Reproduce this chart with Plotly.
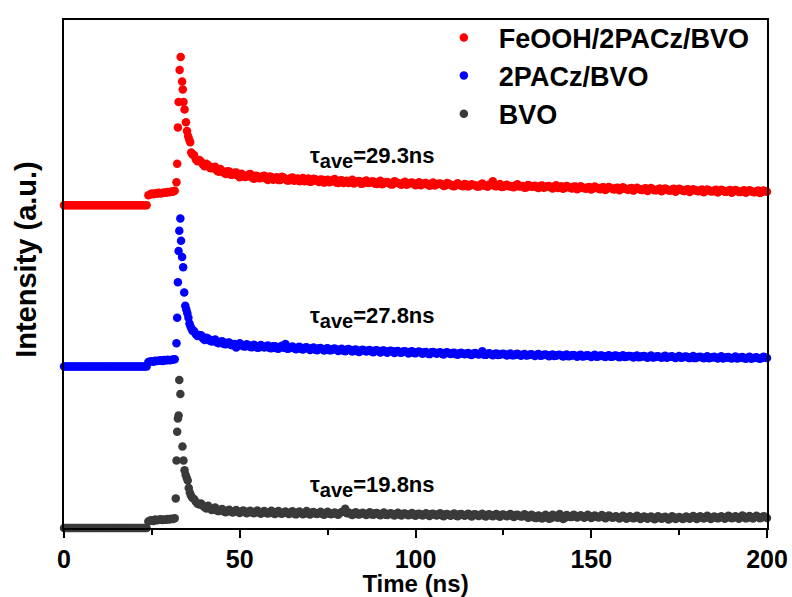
import plotly.graph_objects as go

# ---- time grids (ns) ----
t_pre = [i * 0.5 for i in range(64)]          # 0 ... 31.5 ns, before the pulse
t_tail = list(range(37, 201))                 # decay tail, whole ns
t_tail2 = [i + 0.5 for i in range(37, 200)]   # decay tail, half ns

# ---- normalized PL intensities (baseline 0, peak 1) ----
# FeOOH/2PACz/BVO
fe_pre = [0.000, 0.000, 0.000, 0.000, 0.000, 0.000, 0.000, 0.000, 0.000, 0.000, 0.000, 0.000, 0.000, 0.000, 0.000, 0.000,
          0.000, 0.000, 0.000, 0.000, 0.000, 0.000, 0.000, 0.000, 0.000, 0.000, 0.000, 0.000, 0.000, 0.000, 0.000, 0.000,
          0.000, 0.000, 0.000, 0.000, 0.000, 0.000, 0.000, 0.000, 0.000, 0.000, 0.000, 0.000, 0.000, 0.000, 0.000, 0.000,
          0.066, 0.072, 0.078, 0.074, 0.080, 0.077, 0.083, 0.079, 0.082, 0.086, 0.084, 0.089, 0.087, 0.092, 0.090, 0.097]
fe_peak_t = [32.0, 32.2, 32.4, 32.6, 32.9, 33.2, 33.6, 33.8, 34.0, 34.3, 34.7,
             35.0, 35.3, 35.6, 35.9, 36.2, 36.6]
fe_peak = [0.155, 0.280, 0.525, 0.697, 0.913, 1.000, 0.834, 0.781, 0.697, 0.646,
           0.560, 0.500, 0.466, 0.445, 0.425, 0.356, 0.340]
fe_tail = [0.338, 0.297, 0.294, 0.262, 0.271, 0.249, 0.259, 0.225, 0.231, 0.210,
           0.227, 0.206, 0.221, 0.188, 0.201, 0.193, 0.210, 0.178, 0.196, 0.183,
           0.199, 0.170, 0.190, 0.181, 0.169, 0.192, 0.176, 0.166, 0.187, 0.172,
           0.161, 0.183, 0.170, 0.158, 0.178, 0.164, 0.173, 0.152, 0.171, 0.160,
           0.176, 0.150, 0.168, 0.157, 0.149, 0.172, 0.155, 0.163, 0.146, 0.167,
           0.151, 0.160, 0.143, 0.165, 0.148, 0.157, 0.140, 0.162, 0.149, 0.138,
           0.158, 0.144, 0.152, 0.135, 0.155, 0.141, 0.149, 0.131, 0.153, 0.139,
           0.146, 0.130, 0.150, 0.137, 0.128, 0.147, 0.134, 0.143, 0.126, 0.141,
           0.135, 0.125, 0.146, 0.131, 0.139, 0.162, 0.128, 0.142, 0.124, 0.137,
           0.130, 0.121, 0.141, 0.127, 0.118, 0.136, 0.124, 0.131, 0.115, 0.133,
           0.122, 0.129, 0.113, 0.134, 0.119, 0.110, 0.130, 0.117, 0.124, 0.108,
           0.127, 0.114, 0.121, 0.105, 0.126, 0.112, 0.119, 0.103, 0.123, 0.110,
           0.116, 0.101, 0.120, 0.107, 0.113, 0.098, 0.118, 0.104, 0.110, 0.095,
           0.115, 0.101, 0.108, 0.093, 0.112, 0.099, 0.106, 0.091, 0.110, 0.097,
           0.104, 0.089, 0.108, 0.095, 0.101, 0.087, 0.106, 0.093, 0.099, 0.085,
           0.104, 0.091, 0.097, 0.084, 0.102, 0.089, 0.095, 0.083, 0.100, 0.088,
           0.094, 0.082, 0.099, 0.090]
fe_tail2 = [0.309, 0.305, 0.276, 0.279, 0.250, 0.256, 0.233, 0.244, 0.218, 0.228,
            0.205, 0.219, 0.199, 0.212, 0.190, 0.206, 0.186, 0.199, 0.181, 0.195,
            0.178, 0.194, 0.172, 0.189, 0.170, 0.186, 0.167, 0.183, 0.164, 0.180,
            0.175, 0.162, 0.179, 0.159, 0.175, 0.156, 0.172, 0.168, 0.154, 0.170,
            0.152, 0.167, 0.149, 0.164, 0.158, 0.146, 0.162, 0.144, 0.160, 0.150,
            0.159, 0.145, 0.156, 0.141, 0.153, 0.147, 0.139, 0.154, 0.143, 0.151,
            0.137, 0.150, 0.142, 0.147, 0.134, 0.148, 0.138, 0.145, 0.133, 0.144,
            0.139, 0.133, 0.144, 0.129, 0.140, 0.135, 0.127, 0.139, 0.132, 0.136,
            0.126, 0.138, 0.131, 0.124, 0.136, 0.129, 0.133, 0.122, 0.135, 0.128,
            0.123, 0.134, 0.126, 0.130, 0.119, 0.131, 0.125, 0.121, 0.129, 0.117,
            0.128, 0.120, 0.125, 0.115, 0.127, 0.118, 0.122, 0.113, 0.125, 0.116,
            0.119, 0.110, 0.122, 0.113, 0.117, 0.108, 0.120, 0.111, 0.115, 0.106,
            0.118, 0.109, 0.113, 0.104, 0.116, 0.107, 0.111, 0.102, 0.114, 0.105,
            0.109, 0.100, 0.112, 0.103, 0.107, 0.098, 0.110, 0.101, 0.105, 0.096,
            0.108, 0.099, 0.103, 0.094, 0.106, 0.097, 0.101, 0.092, 0.104, 0.095,
            0.099, 0.090, 0.102, 0.093, 0.097, 0.088, 0.100, 0.091, 0.095, 0.087,
            0.098, 0.089, 0.093]

# 2PACz/BVO
pa_pre = [0.000, 0.000, 0.000, 0.000, 0.000, 0.000, 0.000, 0.000, 0.000, 0.000, 0.000, 0.000, 0.000, 0.000, 0.000, 0.000,
          0.000, 0.000, 0.000, 0.000, 0.000, 0.000, 0.000, 0.000, 0.000, 0.000, 0.000, 0.000, 0.000, 0.000, 0.000, 0.000,
          0.000, 0.000, 0.000, 0.000, 0.000, 0.000, 0.000, 0.000, 0.000, 0.000, 0.000, 0.000, 0.000, 0.000, 0.000, 0.000,
          0.030, 0.034, 0.036, 0.033, 0.040, 0.037, 0.039, 0.042, 0.038, 0.044, 0.041, 0.046, 0.043, 0.045, 0.048, 0.050]
pa_peak_t = [32.0, 32.2, 32.4, 32.6, 32.8, 33.1, 33.3, 33.6, 33.9, 34.2, 34.5,
             34.8, 35.1, 35.4, 35.7, 36.0, 36.3, 36.6]
pa_peak = [0.157, 0.330, 0.570, 0.780, 0.917, 1.000, 0.850, 0.740, 0.670, 0.500,
           0.410, 0.385, 0.360, 0.330, 0.290, 0.270, 0.255, 0.240]
pa_tail = [0.240, 0.207, 0.212, 0.180, 0.189, 0.170, 0.182, 0.158, 0.171, 0.150,
           0.163, 0.144, 0.128, 0.157, 0.138, 0.151, 0.132, 0.147, 0.127, 0.145,
           0.129, 0.142, 0.124, 0.138, 0.121, 0.140, 0.152, 0.122, 0.136, 0.117,
           0.133, 0.115, 0.130, 0.112, 0.128, 0.110, 0.126, 0.108, 0.124, 0.111,
           0.122, 0.105, 0.120, 0.103, 0.118, 0.101, 0.116, 0.099, 0.114, 0.102,
           0.112, 0.096, 0.110, 0.095, 0.108, 0.093, 0.107, 0.091, 0.105, 0.094,
           0.103, 0.088, 0.104, 0.090, 0.101, 0.086, 0.099, 0.084, 0.098, 0.087,
           0.097, 0.082, 0.096, 0.085, 0.094, 0.080, 0.093, 0.083, 0.091, 0.078,
           0.092, 0.081, 0.103, 0.079, 0.090, 0.076, 0.089, 0.080, 0.087, 0.075,
           0.088, 0.077, 0.086, 0.073, 0.085, 0.076, 0.083, 0.071, 0.084, 0.074,
           0.082, 0.070, 0.081, 0.073, 0.079, 0.068, 0.082, 0.071, 0.078, 0.066,
           0.080, 0.069, 0.077, 0.065, 0.079, 0.068, 0.075, 0.064, 0.077, 0.067,
           0.074, 0.063, 0.076, 0.066, 0.072, 0.061, 0.075, 0.065, 0.071, 0.060,
           0.074, 0.063, 0.070, 0.059, 0.073, 0.064, 0.069, 0.058, 0.072, 0.062,
           0.068, 0.057, 0.071, 0.061, 0.067, 0.056, 0.070, 0.060, 0.066, 0.055,
           0.069, 0.059, 0.065, 0.054, 0.068, 0.058, 0.064, 0.053, 0.067, 0.057,
           0.063, 0.052, 0.066, 0.058]
pa_tail2 = [0.218, 0.213, 0.192, 0.194, 0.174, 0.178, 0.163, 0.168, 0.152, 0.160,
            0.146, 0.152, 0.140, 0.148, 0.135, 0.144, 0.131, 0.141, 0.128, 0.139,
            0.134, 0.126, 0.137, 0.123, 0.133, 0.127, 0.120, 0.131, 0.124, 0.128,
            0.118, 0.127, 0.121, 0.124, 0.114, 0.123, 0.117, 0.120, 0.111, 0.119,
            0.113, 0.116, 0.107, 0.115, 0.110, 0.112, 0.104, 0.111, 0.107, 0.109,
            0.101, 0.108, 0.104, 0.106, 0.098, 0.105, 0.101, 0.103, 0.095, 0.102,
            0.098, 0.100, 0.092, 0.099, 0.095, 0.097, 0.089, 0.096, 0.093, 0.094,
            0.087, 0.093, 0.090, 0.091, 0.084, 0.090, 0.087, 0.089, 0.082, 0.088,
            0.085, 0.086, 0.080, 0.087, 0.083, 0.084, 0.078, 0.085, 0.081, 0.082,
            0.076, 0.083, 0.079, 0.080, 0.074, 0.081, 0.078, 0.079, 0.073, 0.080,
            0.076, 0.077, 0.071, 0.078, 0.075, 0.076, 0.070, 0.077, 0.073, 0.074,
            0.068, 0.075, 0.072, 0.073, 0.067, 0.074, 0.070, 0.072, 0.066, 0.073,
            0.069, 0.070, 0.064, 0.071, 0.068, 0.069, 0.063, 0.070, 0.066, 0.067,
            0.061, 0.068, 0.065, 0.066, 0.060, 0.067, 0.063, 0.064, 0.059, 0.066,
            0.062, 0.063, 0.057, 0.064, 0.061, 0.062, 0.056, 0.063, 0.059, 0.061,
            0.055, 0.062, 0.058, 0.060, 0.054, 0.061, 0.057, 0.059, 0.053, 0.060,
            0.056, 0.058, 0.061]

# BVO
bv_pre = [0.000, 0.000, 0.000, 0.000, 0.000, 0.000, 0.000, 0.000, 0.000, 0.000, 0.000, 0.000, 0.000, 0.000, 0.000, 0.000,
          0.000, 0.000, 0.000, 0.000, 0.000, 0.000, 0.000, 0.000, 0.000, 0.000, 0.000, 0.000, 0.000, 0.000, 0.000, 0.000,
          0.000, 0.000, 0.000, 0.000, 0.000, 0.000, 0.000, 0.000, 0.000, 0.000, 0.000, 0.000, 0.000, 0.000, 0.000, 0.000,
          0.044, 0.050, 0.053, 0.048, 0.057, 0.052, 0.055, 0.059, 0.054, 0.058, 0.056, 0.061, 0.057, 0.063, 0.060, 0.066]
bv_peak_t = [31.8, 32.0, 32.2, 32.4, 32.6, 32.8, 33.1, 33.7, 34.0, 34.3, 34.6,
             34.9, 35.2, 35.5, 35.8, 36.1, 36.5]
bv_peak = [0.200, 0.455, 0.650, 0.740, 0.760, 1.000, 0.905, 0.550, 0.455, 0.390,
           0.360, 0.340, 0.320, 0.270, 0.240, 0.220, 0.205]
bv_tail = [0.196, 0.164, 0.166, 0.140, 0.150, 0.122, 0.139, 0.114, 0.129, 0.106,
           0.124, 0.104, 0.121, 0.102, 0.119, 0.099, 0.117, 0.100, 0.118, 0.097,
           0.115, 0.098, 0.117, 0.095, 0.114, 0.097, 0.112, 0.094, 0.113, 0.092,
           0.111, 0.093, 0.114, 0.091, 0.108, 0.095, 0.110, 0.089, 0.109, 0.093,
           0.105, 0.090, 0.108, 0.130, 0.104, 0.088, 0.107, 0.091, 0.103, 0.087,
           0.106, 0.089, 0.102, 0.086, 0.105, 0.088, 0.100, 0.085, 0.103, 0.084,
           0.098, 0.086, 0.101, 0.082, 0.097, 0.085, 0.100, 0.081, 0.096, 0.084,
           0.099, 0.080, 0.095, 0.083, 0.098, 0.079, 0.094, 0.082, 0.097, 0.078,
           0.093, 0.081, 0.096, 0.077, 0.092, 0.080, 0.095, 0.076, 0.091, 0.079,
           0.094, 0.075, 0.090, 0.078, 0.093, 0.070, 0.089, 0.068, 0.085, 0.064,
           0.089, 0.062, 0.090, 0.072, 0.094, 0.060, 0.087, 0.074, 0.090, 0.071,
           0.086, 0.070, 0.089, 0.068, 0.085, 0.071, 0.088, 0.066, 0.084, 0.069,
           0.080, 0.064, 0.083, 0.062, 0.079, 0.065, 0.082, 0.060, 0.078, 0.063,
           0.077, 0.059, 0.080, 0.062, 0.076, 0.058, 0.079, 0.061, 0.075, 0.060,
           0.078, 0.063, 0.081, 0.060, 0.079, 0.064, 0.082, 0.061, 0.078, 0.065,
           0.080, 0.062, 0.083, 0.066, 0.079, 0.063, 0.084, 0.065, 0.081, 0.064,
           0.082, 0.066, 0.080, 0.068]
bv_tail2 = [0.178, 0.158, 0.152, 0.132, 0.133, 0.127, 0.118, 0.124, 0.112, 0.117,
            0.110, 0.113, 0.108, 0.111, 0.106, 0.112, 0.104, 0.109, 0.103, 0.110,
            0.102, 0.107, 0.100, 0.108, 0.099, 0.105, 0.101, 0.106, 0.097, 0.104,
            0.099, 0.103, 0.096, 0.104, 0.098, 0.101, 0.095, 0.102, 0.097, 0.100,
            0.094, 0.101, 0.112, 0.099, 0.095, 0.100, 0.093, 0.098, 0.094, 0.097,
            0.092, 0.099, 0.093, 0.096, 0.090, 0.097, 0.092, 0.095, 0.089, 0.096,
            0.091, 0.094, 0.088, 0.095, 0.090, 0.093, 0.087, 0.094, 0.089, 0.092,
            0.086, 0.093, 0.088, 0.091, 0.085, 0.092, 0.087, 0.090, 0.084, 0.091,
            0.086, 0.089, 0.083, 0.090, 0.085, 0.088, 0.082, 0.089, 0.084, 0.087,
            0.081, 0.088, 0.083, 0.079, 0.086, 0.072, 0.082, 0.067, 0.078, 0.070,
            0.076, 0.066, 0.083, 0.070, 0.079, 0.068, 0.081, 0.075, 0.083, 0.078,
            0.079, 0.076, 0.081, 0.075, 0.078, 0.074, 0.080, 0.072, 0.077, 0.073,
            0.074, 0.071, 0.076, 0.069, 0.073, 0.070, 0.075, 0.067, 0.072, 0.069,
            0.070, 0.066, 0.073, 0.068, 0.069, 0.065, 0.072, 0.067, 0.070, 0.066,
            0.071, 0.069, 0.074, 0.067, 0.072, 0.070, 0.075, 0.068, 0.073, 0.071,
            0.072, 0.070, 0.076, 0.069, 0.074, 0.071, 0.077, 0.070, 0.075, 0.072,
            0.074, 0.071, 0.076]

series_names = ["FeOOH/2PACz/BVO", "2PACz/BVO", "BVO"]
series_colors = ["#ff0000", "#0000ff", "#3a3a3a"]
series_offsets = [2.18, 1.09, 0.0]        # vertical stacking of the curves
tau_labels = ["29.3ns", "27.8ns", "19.8ns"]
tau_label_y = [2.50, 1.42, 0.28]
tau_label_x = 69.5

series_data = [
    (fe_pre, fe_peak_t, fe_peak, fe_tail, fe_tail2),
    (pa_pre, pa_peak_t, pa_peak, pa_tail, pa_tail2),
    (bv_pre, bv_peak_t, bv_peak, bv_tail, bv_tail2),
]

FONT = "Liberation Sans, Arial, sans-serif"

fig = go.Figure()
for name, color, off, (pre, pk_t, pk, tail, tail2) in zip(
        series_names, series_colors, series_offsets, series_data):
    x = t_pre + pk_t + t_tail + t_tail2
    y = [v + off for v in pre + pk + tail + tail2]
    fig.add_trace(go.Scatter(
        x=x, y=y, mode="markers", name=name, cliponaxis=False,
        marker=dict(color=color, size=8.5, opacity=1, line=dict(width=0)),
    ))

for lab, ly in zip(tau_labels, tau_label_y):
    fig.add_annotation(
        x=tau_label_x, y=ly, xref="x", yref="y", xanchor="left", yanchor="middle",
        showarrow=False,
        text="τ<sub><span style='font-size:20px'>ave</span></sub>=" + lab,
        font=dict(family=FONT, size=22, color="black", weight="bold"),
    )

# y-axis title (placed as a rotated annotation)
fig.add_annotation(
    x=-0.054, y=0.528, xref="paper", yref="paper", xanchor="center", yanchor="middle",
    showarrow=False, textangle=-90, text="Intensity (a.u.)",
    font=dict(family=FONT, size=29, color="black", weight="bold"),
)

fig.update_layout(
    width=792, height=597,
    margin=dict(l=64, r=25, t=20, b=69),
    paper_bgcolor="white", plot_bgcolor="white",
    showlegend=True,
    legend=dict(
        x=0.519, y=1.013, xanchor="left", yanchor="top",
        bgcolor="rgba(0,0,0,0)", itemwidth=60,
        font=dict(family=FONT, size=27, color="black", weight="bold"),
        itemclick=False, itemdoubleclick=False,
    ),
    font=dict(family=FONT, color="black"),
)

fig.update_xaxes(
    range=[0, 200], tickvals=[0, 50, 100, 150, 200], automargin=False,
    ticks="outside", ticklen=8, tickwidth=1.5, tickcolor="black",
    minor=dict(tickvals=[25, 75, 125, 175], ticks="outside", ticklen=5,
               tickwidth=1.5, tickcolor="black"),
    showline=True, linewidth=1.5, linecolor="black", mirror=True,
    showgrid=False, zeroline=False,
    tickfont=dict(family=FONT, size=25, color="black", weight="bold"),
    title=dict(text="Time (ns)", standoff=2,
               font=dict(family=FONT, size=24, color="black", weight="bold")),
)
fig.update_yaxes(
    range=[0, 3.43], showticklabels=False, ticks="", automargin=False,
    showline=True, linewidth=1.5, linecolor="black", mirror=True,
    showgrid=False, zeroline=False,
)

fig.write_html("out.html")
